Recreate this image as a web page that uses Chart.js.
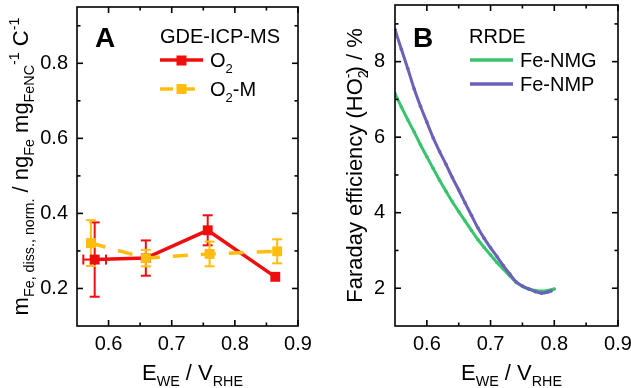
<!DOCTYPE html>
<html>
<head>
<meta charset="utf-8">
<script src="https://cdn.jsdelivr.net/npm/chart.js@4.4.0/dist/chart.umd.min.js"></script>
<style>
  body { margin: 0; background: #fff; }
  #wrap { position: relative; width: 631px; height: 388px; overflow: hidden; }
  canvas { position: absolute; top: 0; }
  #chartA { left: 0; }
  #chartB { left: 315px; }
</style>
</head>
<body>
<div id="wrap">
  <canvas id="chartA" width="315" height="388"></canvas>
  <canvas id="chartB" width="316" height="388"></canvas>
</div>
<script>
// panel A - dissolved Fe, GDE-ICP-MS
const potO2 = [0.578, 0.659, 0.757, 0.864];
const feO2 = [0.277, 0.281, 0.355, 0.231];
const feO2Err = [0.099, 0.047, 0.040, 0];
const potO2Err = [0.018, 0, 0, 0];

const potO2M = [0.572, 0.659, 0.760, 0.867];
const feO2M = [0.321, 0.281, 0.292, 0.299];
const feO2MErr = [0.061, 0.022, 0.033, 0.032];

// panel B - RRDE faraday efficiency for HO2-
const potNMG = [0.55, 0.56, 0.57, 0.58, 0.59, 0.60, 0.61, 0.62, 0.63, 0.64, 0.65, 0.66, 0.67,
                0.68, 0.69, 0.70, 0.71, 0.72, 0.73, 0.74, 0.75, 0.76, 0.77, 0.78, 0.79, 0.80];
const feNMG = [7.15, 6.80, 6.46, 6.14, 5.80, 5.48, 5.17, 4.86, 4.57, 4.29, 4.03, 3.78, 3.53,
               3.29, 3.08, 2.88, 2.68, 2.51, 2.33, 2.16, 2.05, 1.98, 1.94, 1.92, 1.94, 1.98];
const potNMP = [0.55, 0.56, 0.57, 0.58, 0.59, 0.60, 0.61, 0.62, 0.63, 0.64, 0.65, 0.66, 0.67,
                0.68, 0.69, 0.70, 0.71, 0.72, 0.73, 0.74, 0.75, 0.76, 0.77, 0.78, 0.79, 0.795];
const feNMP = [8.85, 8.33, 7.82, 7.28, 6.82, 6.40, 5.98, 5.62, 5.28, 4.93, 4.60, 4.26, 3.93,
               3.60, 3.32, 3.07, 2.84, 2.60, 2.38, 2.17, 2.06, 1.98, 1.91, 1.87, 1.90, 1.93];

const xTicks = [0.6, 0.7, 0.8, 0.9];
const xMinor = [0.65, 0.75, 0.85];
const yTicksA = [0.2, 0.4, 0.6, 0.8];
const yMinorA = [0.3, 0.5, 0.7, 0.9];
const yTicksB = [2, 4, 6, 8];
const yMinorB = [3, 5, 7, 9];

const FONT = 'Arial, "Liberation Sans", sans-serif';
const RED = '#f00d0d';
const YELLOW = '#ffbe0f';
const GREEN = '#38c46c';
const PURPLE = '#6a62b9';

// text with sub/superscripts: parts = [text, mode, stay]
function drawRich(ctx, parts, x, y, size, align) {
  let w = 0;
  parts.forEach(([t, m, stay]) => {
    ctx.font = (m ? size * 0.65 : size) + 'px ' + FONT;
    if (!stay) w += ctx.measureText(t).width;
  });
  let cx = align === 'center' ? x - w / 2 : x;
  ctx.textAlign = 'left';
  ctx.textBaseline = 'alphabetic';
  parts.forEach(([t, m, stay]) => {
    ctx.font = (m ? size * 0.65 : size) + 'px ' + FONT;
    const dy = m === 'sub' ? size * 0.28 : m === 'sup' ? -size * 0.42 : 0;
    ctx.fillText(t, cx, y + dy);
    if (!stay) cx += ctx.measureText(t).width;
  });
}

function line(ctx, x1, y1, x2, y2) {
  ctx.beginPath(); ctx.moveTo(x1, y1); ctx.lineTo(x2, y2); ctx.stroke();
}

// box around the plot and inward ticks on all four sides
const framePlugin = {
  id: 'frame',
  afterDraw(chart, args, opts) {
    const { ctx, chartArea: a, scales: { x, y } } = chart;
    ctx.save();
    ctx.strokeStyle = '#000';
    ctx.lineWidth = 1.6;
    ctx.setLineDash([]);
    ctx.strokeRect(a.left, a.top, a.right - a.left, a.bottom - a.top);
    const xt = (vals, len) => vals.forEach(v => {
      const px = x.getPixelForValue(v);
      line(ctx, px, a.bottom, px, a.bottom - len);
      line(ctx, px, a.top, px, a.top + len);
    });
    const yt = (vals, len) => vals.forEach(v => {
      const py = y.getPixelForValue(v);
      line(ctx, a.left, py, a.left + len, py);
      line(ctx, a.right, py, a.right - len, py);
    });
    xt(xTicks, 6); xt(xMinor, 3.5);
    yt(opts.yMajor, 6); yt(opts.yMinor, 3.5);
    ctx.restore();
  }
};

const errorBars = {
  id: 'errorBars',
  beforeDatasetsDraw(chart) {
    const { ctx, scales: { x, y } } = chart;
    chart.data.datasets.forEach(ds => {
      if (!ds.yErr) return;
      ctx.save();
      ctx.strokeStyle = ds.borderColor;
      ctx.lineWidth = 2;
      ctx.setLineDash([]);
      ds.data.forEach((p, i) => {
        const px = x.getPixelForValue(p.x), py = y.getPixelForValue(p.y);
        const e = ds.yErr[i];
        if (e) {
          const t = y.getPixelForValue(p.y + e), b = y.getPixelForValue(p.y - e);
          line(ctx, px, t, px, b);
          line(ctx, px - 5, t, px + 5, t);
          line(ctx, px - 5, b, px + 5, b);
        }
        const ex = ds.xErr ? ds.xErr[i] : 0;
        if (ex) {
          const l = x.getPixelForValue(p.x - ex), r = x.getPixelForValue(p.x + ex);
          line(ctx, l, py, r, py);
          line(ctx, l, py - 5, l, py + 5);
          line(ctx, r, py - 5, r, py + 5);
        }
      });
      ctx.restore();
    });
  }
};

function baseOptions(o) {
  return {
    responsive: false,
    animation: false,
    layout: { padding: { top: 5, right: o.padRight, left: 0, bottom: 0 } },
    plugins: {
      legend: { display: false },
      tooltip: { enabled: false },
      frame: { yMajor: o.yTicks, yMinor: o.yMinor }
    },
    scales: {
      x: {
        type: 'linear', min: 0.55, max: 0.9,
        grid: { display: false, drawTicks: false },
        border: { display: false },
        ticks: { padding: 6, color: '#000', font: { size: 20, family: FONT }, callback: v => v.toFixed(1) },
        afterBuildTicks: s => { s.ticks = xTicks.map(v => ({ value: v })); },
        afterFit: s => { s.height = 62; s.paddingLeft = 0; s.paddingRight = 0; }
      },
      y: {
        type: 'linear', min: o.yMin, max: o.yMax,
        grid: { display: false, drawTicks: false },
        border: { display: false },
        ticks: { padding: o.yPad, color: '#000', font: { size: 20, family: FONT }, callback: o.yFmt },
        afterBuildTicks: s => { s.ticks = o.yTicks.map(v => ({ value: v })); },
        afterFit: s => { s.width = o.yWidth; s.paddingTop = 0; s.paddingBottom = 0; }
      }
    }
  };
}

function xTitle(chart) {
  const { ctx, chartArea: a } = chart;
  ctx.fillStyle = '#000';
  drawRich(ctx, [['E'], ['WE', 'sub'], [' / V'], ['RHE', 'sub']], (a.left + a.right) / 2 + 5, 380, 22, 'center');
}

// ---------- panel A ----------
const labelsA = {
  id: 'labelsA',
  afterDraw(chart) {
    const { ctx, chartArea: a } = chart;
    ctx.save();
    ctx.fillStyle = '#000';
    xTitle(chart);
    ctx.save();
    ctx.translate(28, (a.top + a.bottom) / 2);
    ctx.rotate(-Math.PI / 2);
    drawRich(ctx, [['m'], ['Fe, diss., norm.', 'sub'], [' / ng'], ['Fe', 'sub'], [' mg'], ['FeNC', 'sub'],
                   ['-1', 'sup'], [' C'], ['-1', 'sup']], 0, 0, 22, 'center');
    ctx.restore();
    ctx.font = 'bold 28px ' + FONT;
    ctx.fillText('A', 95, 47);
    ctx.font = '20px ' + FONT;
    ctx.fillText('GDE-ICP-MS', 160, 43);
    // legend samples
    ctx.lineWidth = 3.5;
    ctx.strokeStyle = RED;
    line(ctx, 160, 60, 203, 60);
    ctx.fillStyle = RED;
    ctx.fillRect(176.5, 55.5, 10, 10);
    ctx.strokeStyle = YELLOW;
    ctx.setLineDash([13, 9]);
    line(ctx, 160, 89, 203, 89);
    ctx.setLineDash([]);
    ctx.fillStyle = YELLOW;
    ctx.fillRect(176.5, 84, 10, 10);
    ctx.fillStyle = '#000';
    drawRich(ctx, [['O'], ['2', 'sub']], 210, 67, 20, 'left');
    drawRich(ctx, [['O'], ['2', 'sub'], ['-M']], 210, 96, 20, 'left');
    ctx.restore();
  }
};

new Chart(document.getElementById('chartA'), {
  type: 'line',
  data: {
    datasets: [
      {
        label: 'O2',
        data: potO2.map((v, i) => ({ x: v, y: feO2[i] })),
        yErr: feO2Err, xErr: potO2Err,
        borderColor: RED, backgroundColor: RED, borderWidth: 3.5,
        pointStyle: 'rect', pointRadius: 7, pointBorderWidth: 0,
        order: 1
      },
      {
        label: 'O2-M',
        data: potO2M.map((v, i) => ({ x: v, y: feO2M[i] })),
        yErr: feO2MErr,
        borderColor: YELLOW, backgroundColor: YELLOW, borderWidth: 3.5, borderDash: [15, 13],
        pointStyle: 'rect', pointRadius: 7, pointBorderWidth: 0,
        order: 0
      }
    ]
  },
  options: baseOptions({ yMin: 0.1, yMax: 0.95, yTicks: yTicksA, yMinor: yMinorA, yWidth: 77, yPad: 9,
                         padRight: 17, yFmt: v => v.toFixed(1) }),
  plugins: [errorBars, framePlugin, labelsA]
});

// ---------- panel B ----------
const labelsB = {
  id: 'labelsB',
  afterDraw(chart) {
    const { ctx, chartArea: a } = chart;
    ctx.save();
    ctx.fillStyle = '#000';
    xTitle(chart);
    ctx.save();
    ctx.translate(47, (a.top + a.bottom) / 2);
    ctx.rotate(-Math.PI / 2);
    drawRich(ctx, [['Faraday efficiency (HO'], ['2', 'sub', true], ['-', 'sup'], [') / %']], 0, 0, 22, 'center');
    ctx.restore();
    ctx.font = 'bold 28px ' + FONT;
    ctx.fillText('B', 98, 47);
    ctx.font = '20px ' + FONT;
    ctx.fillText('RRDE', 154, 43);
    ctx.lineWidth = 3.5;
    ctx.strokeStyle = GREEN;
    line(ctx, 155, 60, 198, 60);
    ctx.strokeStyle = PURPLE;
    line(ctx, 155, 84, 198, 84);
    ctx.fillStyle = '#000';
    ctx.fillText('Fe-NMG', 205, 67);
    ctx.fillText('Fe-NMP', 205, 91);
    ctx.restore();
  }
};

new Chart(document.getElementById('chartB'), {
  type: 'line',
  data: {
    datasets: [
      {
        label: 'Fe-NMG',
        data: potNMG.map((v, i) => ({ x: v, y: feNMG[i] })),
        borderColor: GREEN, backgroundColor: GREEN, borderWidth: 3,
        pointRadius: 1.8, pointBorderWidth: 0, cubicInterpolationMode: 'monotone',
        order: 1
      },
      {
        label: 'Fe-NMP',
        data: potNMP.map((v, i) => ({ x: v, y: feNMP[i] })),
        borderColor: PURPLE, backgroundColor: PURPLE, borderWidth: 3,
        pointRadius: 1.8, pointBorderWidth: 0, cubicInterpolationMode: 'monotone',
        order: 0
      }
    ]
  },
  options: baseOptions({ yMin: 1, yMax: 9.5, yTicks: yTicksB, yMinor: yMinorB, yWidth: 80, yPad: 10,
                         padRight: 13, yFmt: v => String(v) }),
  plugins: [framePlugin, labelsB]
});
</script>
</body>
</html>
